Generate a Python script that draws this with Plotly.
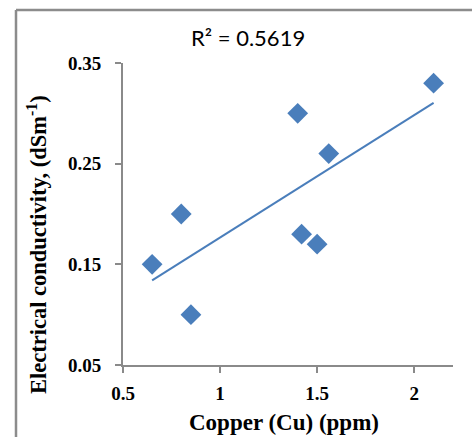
import numpy as np
import plotly.graph_objects as go

# Data
copper_ppm = [0.65, 0.80, 0.85, 1.40, 1.42, 1.50, 1.56, 2.10]
ec_dsm = [0.15, 0.20, 0.10, 0.30, 0.18, 0.17, 0.26, 0.33]
r2_label = "R² = 0.5619"
x_ticks = [0.5, 1, 1.5, 2]
x_tick_labels = ["0.5", "1", "1.5", "2"]
y_ticks = [0.05, 0.15, 0.25, 0.35]
y_tick_labels = ["0.05", "0.15", "0.25", "0.35"]

W, H = 472, 437
ML, MR, MT, MB = 123, 19, 63, 72
PW, PH = W - ML - MR, H - MT - MB

def px_x(px):
    return (px - ML) / PW

def px_y(py):
    return 1 - (py - MT) / PH

blue = "#4a7ebb"
axis_gray = "#8a8a8a"

slope, intercept = np.polyfit(copper_ppm, ec_dsm, 1)
xfit = [min(copper_ppm), max(copper_ppm)]
yfit = [slope * v + intercept for v in xfit]

fig = go.Figure()
fig.add_trace(go.Scatter(x=xfit, y=yfit, mode="lines",
                         line=dict(color=blue, width=2), hoverinfo="skip"))
fig.add_trace(go.Scatter(x=copper_ppm, y=ec_dsm, mode="markers",
                         marker=dict(symbol="diamond", size=16, color=blue,
                                     line=dict(width=0))))

tickfont = dict(family="Liberation Serif", size=19, color="black", weight="bold")

fig.update_layout(
    width=W, height=H,
    margin=dict(l=ML, r=MR, t=MT, b=MB, pad=0),
    paper_bgcolor="white", plot_bgcolor="white",
    showlegend=False,
    xaxis=dict(range=[0.5, 2.2], tickvals=x_ticks, ticktext=x_tick_labels,
               showgrid=False, zeroline=False, showline=True,
               linecolor=axis_gray, linewidth=2, ticks="outside", ticklen=6,
               tickcolor=axis_gray, tickwidth=2, tickfont=tickfont,
               ticklabelstandoff=4),
    yaxis=dict(range=[0.05, 0.35], tickvals=y_ticks, ticktext=y_tick_labels,
               showgrid=False, zeroline=False, showline=True,
               linecolor=axis_gray, linewidth=2, ticks="outside", ticklen=6,
               tickcolor=axis_gray, tickwidth=2, tickfont=tickfont,
               ticklabelstandoff=10),
)

# chart frame (left and top edges visible)
fig.add_shape(type="line", xref="paper", yref="paper",
              x0=px_x(16), x1=px_x(W + 5), y0=px_y(10), y1=px_y(10),
              line=dict(color="#8c8c8c", width=2.5))
fig.add_shape(type="line", xref="paper", yref="paper",
              x0=px_x(16), x1=px_x(16), y0=px_y(10), y1=px_y(H + 5),
              line=dict(color="#8c8c8c", width=2.5))

fig.add_annotation(text=r2_label, xref="paper", yref="paper",
                   x=px_x(248), y=px_y(37), showarrow=False,
                   xanchor="center", yanchor="middle",
                   font=dict(family="Lato", size=22, color="black"))

fig.add_annotation(text="Copper (Cu) (ppm)", xref="paper", yref="paper",
                   x=px_x(284), y=px_y(422), showarrow=False,
                   xanchor="center", yanchor="middle",
                   font=dict(family="Liberation Serif", size=23, color="black",
                             weight="bold"))

fig.add_annotation(text="Electrical conductivity, (dSm<sup>-1</sup>)",
                   xref="paper", yref="paper",
                   x=px_x(37), y=px_y(245), showarrow=False, textangle=-90,
                   xanchor="center", yanchor="middle",
                   font=dict(family="Liberation Serif", size=22.5, color="black",
                             weight="bold"))

fig.write_html("out.html")
